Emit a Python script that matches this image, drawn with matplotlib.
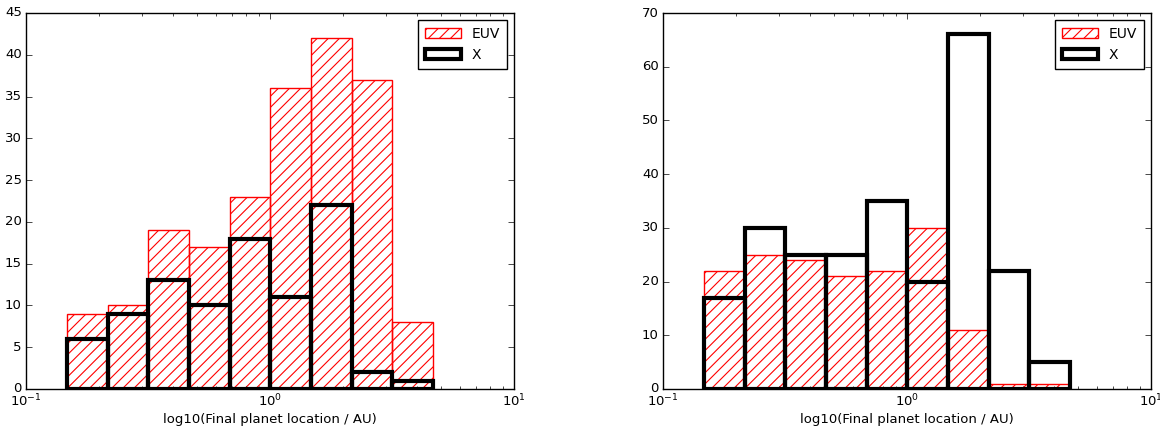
import numpy as np
import matplotlib
matplotlib.use("Agg")
import matplotlib.pyplot as plt

plt.style.use("classic")
plt.rcParams["font.family"] = ["DejaVu Sans"]
plt.rcParams["hatch.linewidth"] = 0.8

# bin edges (AU), log spaced
bin_edges = np.logspace(np.log10(0.147), np.log10(4.66), 10)

# left panel counts
euv_left = [9, 10, 19, 17, 23, 36, 42, 37, 8]
x_left = [6, 9, 13, 10, 18, 11, 22, 2, 1]

# right panel counts
euv_right = [22, 25, 24, 21, 22, 30, 11, 1, 1]
x_right = [17, 30, 25, 25, 35, 20, 66, 22, 5]

xlabel = "log10(Final planet location / AU)"

fig = plt.figure(figsize=(11.6, 4.3), dpi=100, facecolor="white")
ax1 = fig.add_axes([26 / 1160, 41 / 430, 488 / 1160, 376 / 430])
ax2 = fig.add_axes([663 / 1160, 41 / 430, 488 / 1160, 376 / 430])

widths = np.diff(bin_edges)
for ax, euv, xr, ymax, step in [(ax1, euv_left, x_left, 45, 5),
                                (ax2, euv_right, x_right, 70, 10)]:
    ax.bar(bin_edges[:-1], euv, width=widths, align="edge",
           facecolor="none", edgecolor="red", hatch="///", linewidth=1,
           label="EUV")
    ax.bar(bin_edges[:-1], xr, width=widths, align="edge",
           fill=False, edgecolor="black", linewidth=3, label="X")
    ax.set_xscale("log")
    ax.set_xlim(0.1, 10)
    ax.set_ylim(0, ymax)
    ax.set_yticks(np.arange(0, ymax + 1, step))
    ax.tick_params(labelsize=9.5, pad=3)
    ax.set_xlabel(xlabel, fontsize=9.5, labelpad=2)
    ax.legend(loc="upper right", fontsize=10, handlelength=2.6,
              borderpad=0.5, labelspacing=0.5, fancybox=False)

fig.savefig("out.png", dpi=100, facecolor="white")
